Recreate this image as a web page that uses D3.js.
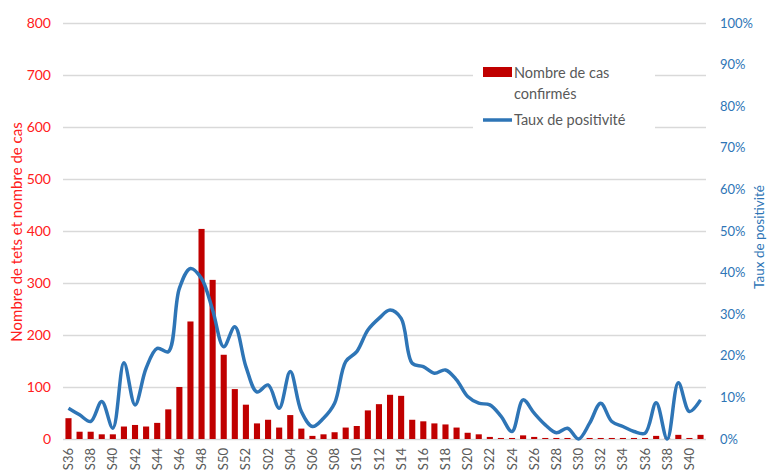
<!DOCTYPE html>
<html>
<head>
<meta charset="utf-8">
<script src="https://cdn.jsdelivr.net/npm/d3@7"></script>
<style>
  body { margin: 0; background: #fff; }
  svg { display: block; font-family: Lato, "Open Sans", sans-serif; }
</style>
</head>
<body>
<div id="chart"></div>
<script>
// weeks (S36 -> S52, then S01 -> S41)
var weeks = ["S36","S37","S38","S39","S40","S41","S42","S43","S44","S45","S46","S47","S48","S49","S50","S51","S52",
  "S01","S02","S03","S04","S05","S06","S07","S08","S09","S10","S11","S12","S13","S14","S15","S16","S17","S18","S19","S20","S21","S22","S23",
  "S24","S25","S26","S27","S28","S29","S30","S31","S32","S33","S34","S35","S36","S37","S38","S39","S40","S41"];

// nombre de cas confirmés
var cases = [40,14,14,9,9,24,27,24,31,57,100,226,404,306,162,96,66,
  30,37,22,46,20,6,9,13,22,25,55,67,85,83,37,34,30,28,22,12,9,4,2,
  2,7,4,2,2,2,1,2,2,2,2,2,2,6,1,8,2,8];

// taux de positivité (%)
var positivity = [7.4,5.8,4.2,9.0,2.6,18.3,8.2,17,21.8,21,36.2,41,38.6,31,22.2,27,17.4,
  11.3,13,7.4,16.2,6.6,3,5,8.6,18.6,21,26.2,29,31,29,18.2,17.4,15.8,16.6,14.2,10.2,8.6,8.2,5.5,
  1.8,9.4,6.2,3.4,1.5,2.6,0,3.8,8.6,4.2,3,1.8,1.4,8.7,0,13.5,6.6,9.4];

var leftTicks = [0,100,200,300,400,500,600,700,800];
var rightTicks = [0,10,20,30,40,50,60,70,80,90,100];

var width = 768, height = 473;
var margin = { top: 23, right: 62, bottom: 34, left: 63 };

var svg = d3.select("#chart")
  .append("svg")
  .attr("width", width)
  .attr("height", height);

var x = d3.scaleBand()
  .domain(d3.range(weeks.length))
  .range([margin.left, width - margin.right])
  .paddingInner(0.45)
  .paddingOuter(0.22);

var y = d3.scaleLinear().domain([0, 800]).range([height - margin.bottom, margin.top]);
var y2 = d3.scaleLinear().domain([0, 100]).range([height - margin.bottom, margin.top]);

// gridlines
svg.append("g")
  .selectAll("line")
  .data(leftTicks)
  .enter()
  .append("line")
  .attr("x1", margin.left)
  .attr("x2", width - margin.right)
  .attr("y1", function(d) { return Math.round(y(d)) + 0.5; })
  .attr("y2", function(d) { return Math.round(y(d)) + 0.5; })
  .style("stroke", "#d9d9d9")
  .style("stroke-width", 1.3);

// left axis
var leftAxis = svg.append("g")
  .attr("transform", "translate(" + margin.left + ",0)")
  .call(d3.axisLeft(y).tickValues(leftTicks).tickSize(0).tickPadding(12));
leftAxis.select(".domain").remove();
leftAxis.selectAll("text")
  .style("fill", "#ff2020")
  .style("font-size", "14px")
  .style("font-family", "Lato, sans-serif");

// right axis
var rightAxis = svg.append("g")
  .attr("transform", "translate(" + (width - margin.right) + ",0)")
  .call(d3.axisRight(y2).tickValues(rightTicks).tickSize(0).tickPadding(14)
    .tickFormat(function(d) { return d + "%"; }));
rightAxis.select(".domain").remove();
rightAxis.selectAll("text")
  .style("fill", "#2e75b6")
  .style("font-size", "13px")
  .style("font-family", "Lato, sans-serif");

// bottom axis, one label out of two
var bottomAxis = svg.append("g")
  .attr("transform", "translate(0," + (height - margin.bottom) + ")")
  .call(d3.axisBottom(x)
    .tickValues(d3.range(0, weeks.length, 2))
    .tickFormat(function(i) { return weeks[i]; })
    .tickSize(0));
bottomAxis.select(".domain").remove();
bottomAxis.selectAll("text")
  .attr("transform", "rotate(-90)")
  .attr("text-anchor", "end")
  .attr("x", -9)
  .attr("y", 0)
  .attr("dy", "0.35em")
  .style("fill", "#595959")
  .style("font-size", "13px")
  .style("font-family", "Lato, sans-serif");

// bars
svg.append("g")
  .selectAll("rect")
  .data(cases)
  .enter()
  .append("rect")
  .attr("x", function(d, i) { return x(i); })
  .attr("y", function(d) { return y(d); })
  .attr("width", x.bandwidth())
  .attr("height", function(d) { return y(0) - y(d); })
  .style("fill", "#c00000");

// smoothed line
var line = d3.line()
  .x(function(d, i) { return x(i) + x.bandwidth() / 2; })
  .y(function(d) { return y2(d); })
  .curve(d3.curveCatmullRom.alpha(0.5));

svg.append("path")
  .datum(positivity)
  .attr("d", line)
  .style("fill", "none")
  .style("stroke", "#2e75b6")
  .style("stroke-width", 3.5)
  .style("stroke-linejoin", "round");

// axis titles
svg.append("text")
  .attr("transform", "translate(22," + (margin.top + 209) + ") rotate(-90)")
  .attr("text-anchor", "middle")
  .style("fill", "#ff2020")
  .style("font-size", "15px")
  .text("Nombre de tets et nombre de cas");

svg.append("text")
  .attr("transform", "translate(764," + (margin.top + 214) + ") rotate(-90)")
  .attr("text-anchor", "middle")
  .style("fill", "#2e75b6")
  .style("font-size", "13.5px")
  .text("Taux de positivité");

// legend
var legend = svg.append("g");
legend.append("rect")
  .attr("x", 473).attr("y", 55)
  .attr("width", 182).attr("height", 82)
  .style("fill", "#fff");
legend.append("rect")
  .attr("x", 483).attr("y", 67)
  .attr("width", 29).attr("height", 10)
  .style("fill", "#c00000");
legend.append("line")
  .attr("x1", 483).attr("x2", 512)
  .attr("y1", 120).attr("y2", 120)
  .style("stroke", "#2e75b6")
  .style("stroke-width", 3.5);
var legendText = [
  { t: "Nombre de cas", y: 73 },
  { t: "confirmés", y: 94 },
  { t: "Taux de positivité", y: 120 }
];
legend.selectAll(".lt")
  .data(legendText)
  .enter()
  .append("text")
  .attr("class", "lt")
  .attr("x", 514)
  .attr("y", function(d) { return d.y; })
  .attr("dy", "0.35em")
  .style("fill", "#595959")
  .style("font-size", "14.5px")
  .text(function(d) { return d.t; });
</script>
</body>
</html>
